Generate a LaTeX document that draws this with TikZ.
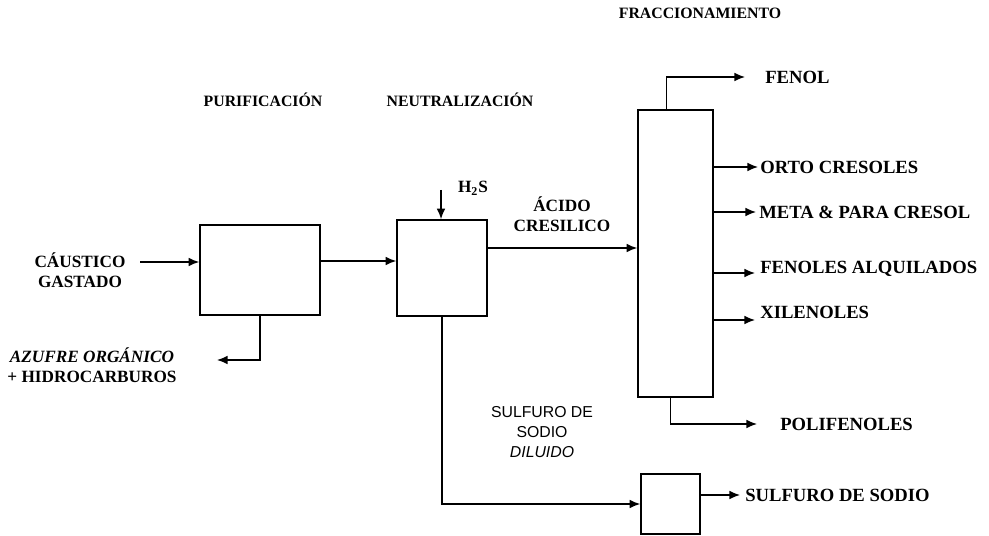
\documentclass[tikz,border=0pt]{standalone}
\usepackage{fontspec}
\setmainfont{Liberation Serif}
\newfontfamily\dilfont{Liberation Sans}
\usetikzlibrary{arrows.meta,positioning}

\begin{document}
\begin{tikzpicture}[x=0.02cm,y=-0.02cm,
    unit/.style={draw, line width=0.9pt, inner sep=0pt},
    flow/.style={draw, line width=0.9pt, -{Latex[length=6pt,width=5pt]}},
    stage/.style={font=\fontsize{9}{11}\selectfont\bfseries},
    stream/.style={font=\fontsize{9.8}{11.4}\selectfont\bfseries, align=center, inner sep=0pt},
    product/.style={font=\fontsize{10.6}{13}\selectfont\bfseries, inner sep=0pt}]
  \useasboundingbox (0,0) rectangle (989,536);

  % etapas
  \node[stage] (purif) at (263,100) {PURIFICACIÓN};
  \node[stage] (neutr) at (460,100) {NEUTRALIZACIÓN};
  \node[stage] (fracc) at (700,13) {FRACCIONAMIENTO};

  % equipos
  \node[unit, minimum width=2.4cm, minimum height=1.8cm] (box1) at (260,270) {};
  \node[unit, minimum width=1.8cm, minimum height=1.92cm] (box2) at (442,268) {};
  \node[unit, minimum width=1.5cm, minimum height=5.74cm] (col) at (675.5,253.5) {};
  \node[unit, minimum width=1.18cm, minimum height=1.2cm] (box3) at (670.5,504) {};

  % purificacion
  \coordinate (cin) at (140,262);
  \node[stream] (caustico) at (80,270) {CÁUSTICO\\GASTADO};
  \draw[flow] (cin) -- (cin -| box1.west);
  \coordinate (azo) at (217,360);
  \draw[flow] (box1.south) |- (azo);
  \node[stream] (azufre) at (92,365) {\textit{AZUFRE ORGÁNICO}\\+ HIDROCARBUROS};
  \draw[flow] (box1.east |- 0,261) -- (box2.west |- 0,261);

  % neutralizacion
  \coordinate (h2s) at (441,190);
  \draw[flow] (h2s) -- (h2s |- box2.north);
  \node[stream] (h2slbl) at (473,188) {H\textsubscript{2}S};
  \draw[flow] (box2.east |- 0,248) -- (col.west |- 0,248);
  \node[stream] (acido) at (562,214) {ÁCIDO\\CRESILICO};

  % fraccionamiento
  \coordinate (fen) at (745,77);
  \draw[flow] (col.north) ++(-9,0) |- (fen);
  \node[product, right=0.4cm of fen] (fenol) {FENOL};
  \coordinate (orto) at (758,167);
  \draw[flow] (col.east |- orto) -- (orto);
  \node[product, right=0.04cm of orto] (ortolbl) {ORTO CRESOLES};
  \coordinate (meta) at (756,212);
  \draw[flow] (col.east |- meta) -- (meta);
  \node[product, right=0.06cm of meta] (metalbl) {META \& PARA CRESOL};
  \coordinate (alq) at (755,273);
  \draw[flow] (col.east |- alq) -- (alq);
  \node[product, right=0.1cm of alq, yshift=0.08cm] (alqlbl) {FENOLES ALQUILADOS};
  \coordinate (xil) at (755,320);
  \draw[flow] (col.east |- xil) -- (xil);
  \node[product, right=0.1cm of xil, yshift=0.16cm] (xillbl) {XILENOLES};
  \coordinate (poli) at (757,424);
  \draw[flow] (col.south) ++(-5,0) |- (poli);
  \node[product, right=0.46cm of poli] (polilbl) {POLIFENOLES};

  % sulfuro de sodio
  \draw[flow] (box2.south) |- (box3.west);
  \node[font=\dilfont\fontsize{9}{11.4}\selectfont, align=center] (dil) at (542,432) {SULFURO DE\\SODIO\\\textit{DILUIDO}};
  \coordinate (sds) at (740,495);
  \draw[flow] (box3.east |- sds) -- (sds);
  \node[product, right=0.1cm of sds] (sdslbl) {SULFURO DE SODIO};
\end{tikzpicture}
\end{document}
